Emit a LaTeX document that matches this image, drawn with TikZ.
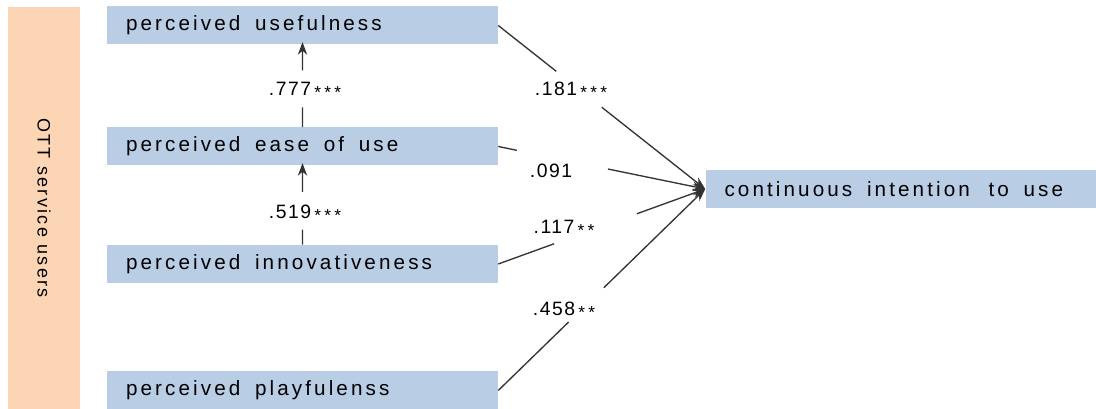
\documentclass[tikz,border=0pt]{standalone}
\usepackage{fontspec}
\setmainfont{Liberation Sans}
\newfontfamily\boxfont[LetterSpace=15]{Liberation Sans}
\newfontfamily\groupfont[LetterSpace=13]{Liberation Sans}
\newfontfamily\coeffont[LetterSpace=8]{Liberation Sans}
\usetikzlibrary{arrows.meta, calc}

\definecolor{boxblue}{RGB}{185,205,229}
\definecolor{grouppeach}{RGB}{252,213,181}
\newcommand{\sigstar}{\hspace{2.4pt}\raisebox{-2.4pt}{\fontsize{13}{11}\selectfont *}}
\newcommand{\vartext}[1]{\makebox[264.75pt][l]{\raisebox{-1pt}{#1}}}
\newcommand{\wsp}{\hspace{11pt}}

\begin{document}
\begin{tikzpicture}[x=0.75pt,y=0.75pt,yscale=-1,xscale=1,
  varbox/.style={fill=boxblue, draw=none, minimum height=28.5pt, inner xsep=14.25pt,
    font=\boxfont\fontsize{15.5}{18}\selectfont},
  coef/.style={inner sep=0.75pt, font=\coeffont\fontsize{14.5}{16}\selectfont},
  path/.style={draw=black!80, line width=1pt},
  tip/.style={-{Stealth[length=9.5pt,width=7pt]}}]
\path[use as bounding box] (0,0) rectangle (1096,409);

% Group bar
\node [fill=grouppeach, minimum width=301.5pt, minimum height=54pt, rotate=-90,
  font=\groupfont\fontsize{13.5}{16}\selectfont] (grp) at (44,208) {OTT service users};

% Variable boxes
\node [varbox] (pu) at (302.5,25.5) {\vartext{perceived\wsp usefulness}};
\node [varbox] (peou) at (302.5,146.5) {\vartext{perceived\wsp ease\wsp of\wsp use}};
\node [varbox] (pi) at (302.5,264) {\vartext{perceived\wsp innovativeness}};
\node [varbox] (pp) at (302.5,390.5) {\vartext{perceived\wsp playfulenss}};
\node [varbox] (ciu) at (901,189) {\vartext{continuous\wsp intention\wsp\hspace{3pt}to\wsp use}};

% Text Node
\node [coef] (c777) at (305,90) {.777\sigstar\sigstar\sigstar};
% Text Node
\node [coef] (c519) at (305,213) {.519\sigstar\sigstar\sigstar};
% Text Node
\node [coef] (c181) at (571,90) {.181\sigstar\sigstar\sigstar};
% Text Node
\node [coef] (c091) at (551,171) {.091};
% Text Node
\node [coef] (c117) at (564,228) {.117\sigstar\sigstar};
% Text Node
\node [coef] (c458) at (564,310) {.458\sigstar\sigstar};

% Paths between the boxes, broken where the coefficient sits
\draw [path] (peou.north) -- ($(peou.north)!0.24!(pu.south)$);
\draw [path, tip] ($(peou.north)!0.69!(pu.south)$) -- ([yshift=-2pt]pu.south);
\draw [path] (pi.north) -- ($(pi.north)!0.19!(peou.south)$);
\draw [path, tip] ($(pi.north)!0.67!(peou.south)$) -- ([yshift=-2pt]peou.south);

\draw [path] (pu.east) -- ($(pu.east)!0.28!(ciu.west)$);
\draw [path, tip] ($(pu.east)!0.5!(ciu.west)$) -- (ciu.west);
\draw [path] (peou.east) -- ($(peou.east)!0.09!(ciu.west)$);
\draw [path, tip] ($(peou.east)!0.53!(ciu.west)$) -- (ciu.west);
\draw [path] (pi.east) -- ($(pi.east)!0.27!(ciu.west)$);
\draw [path, tip] ($(pi.east)!0.67!(ciu.west)$) -- (ciu.west);
\draw [path] (pp.east) -- ($(pp.east)!0.34!(ciu.west)$);
\draw [path, tip] ($(pp.east)!0.51!(ciu.west)$) -- (ciu.west);

\end{tikzpicture}
\end{document}
